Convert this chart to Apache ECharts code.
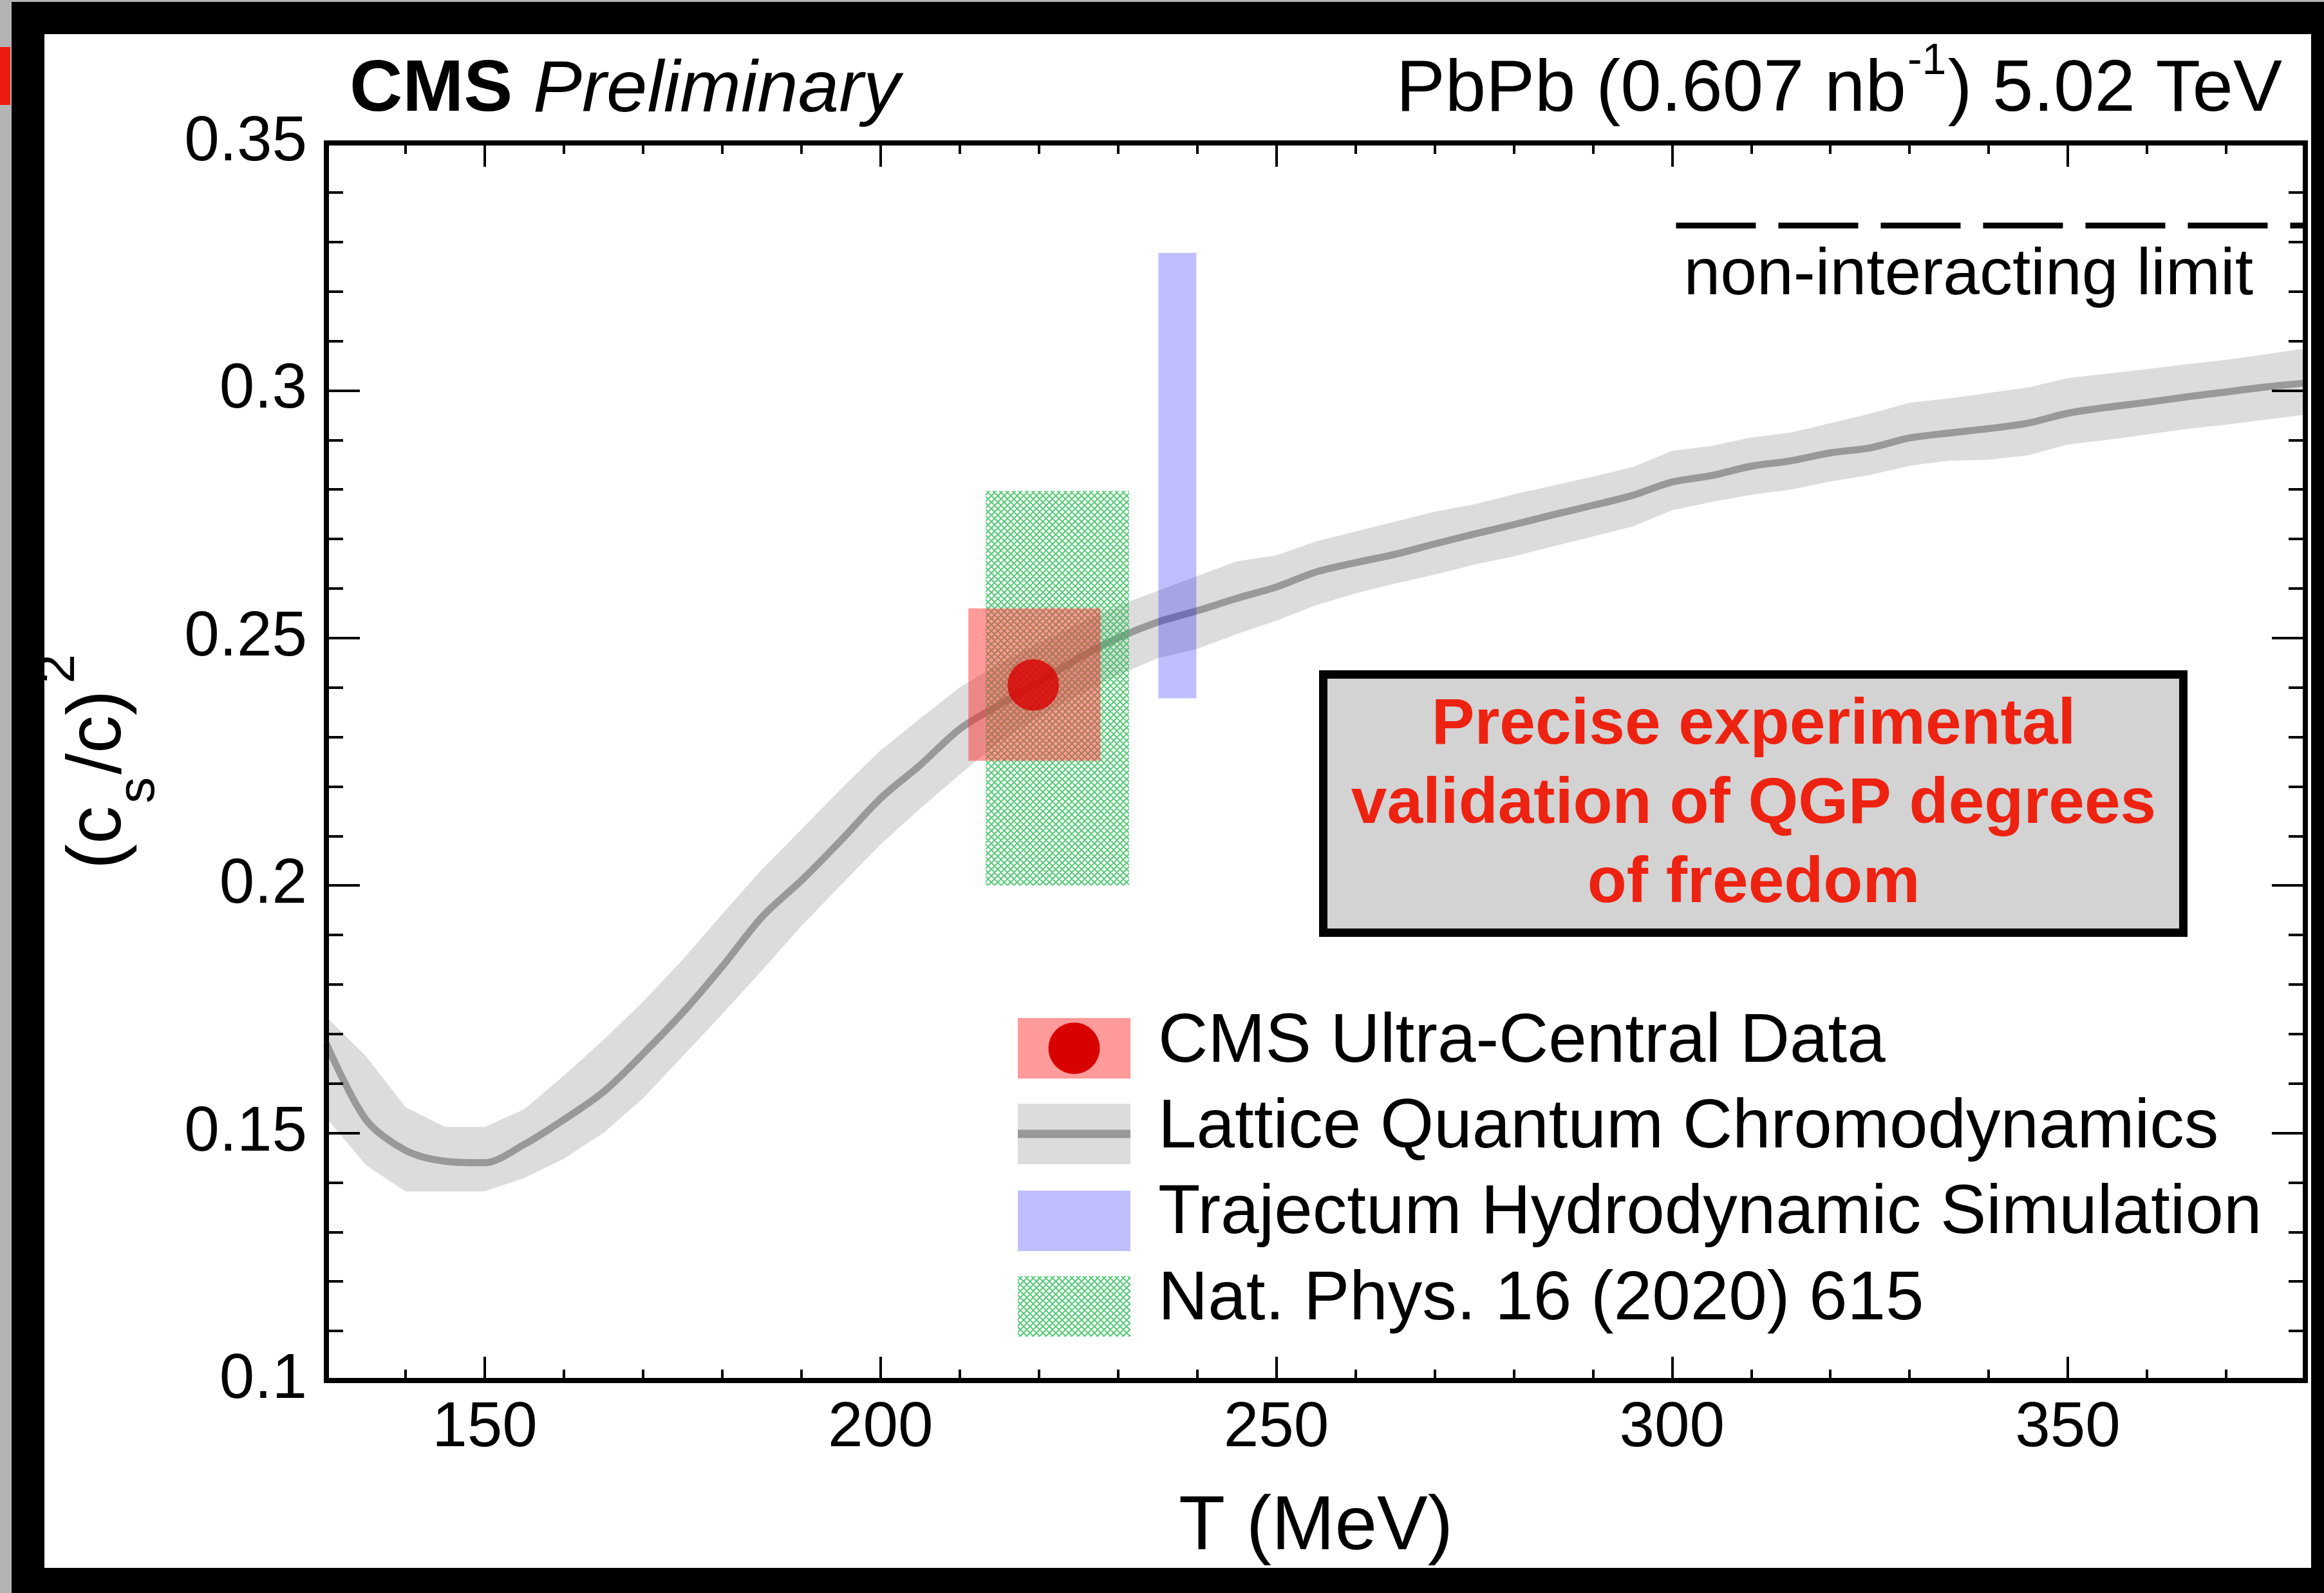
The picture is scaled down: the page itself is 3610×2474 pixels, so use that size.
<!DOCTYPE html>
<html>
<head>
<meta charset="utf-8">
<script src="https://cdn.jsdelivr.net/npm/echarts@6/dist/echarts.min.js"></script>
<style>
html,body{margin:0;padding:0;background:#000;}
#wrap{position:relative;width:3610px;height:2474px;overflow:hidden;background:#000;}
.abs{position:absolute;}
</style>
</head>
<body>
<div id="wrap">
  <div class="abs" style="left:0;top:0;width:18px;height:2474px;background:#b4b4b4"></div>
  <div class="abs" style="left:0;top:0;width:3610px;height:3px;background:#b4b4b4"></div>
  <div class="abs" style="left:0;top:73px;width:16px;height:90px;background:#ee1c0e"></div>
  <div class="abs" style="left:69px;top:53px;width:3521px;height:2382px;background:#fff"></div>
  <div id="chart" class="abs" style="left:0;top:0;width:3610px;height:2474px"></div>
</div>
<script>
// ---------------- data ----------------
const latticeT = [130,135,140,145,150,155,160,165,170,175,180,185,190,195,200,205,210,215,220,225,230,235,240,245,250,255,260,265,270,275,280,285,290,295,300,305,310,315,320,325,330,335,340,345,350,355,360,365,370,375,380];
const latticeCenter = [0.1680,0.1527,0.1465,0.1443,0.1440,0.1477,0.1527,0.1583,0.1660,0.1743,0.1836,0.1936,0.2010,0.2091,0.2176,0.2243,0.2316,0.2365,0.2411,0.2459,0.2500,0.2532,0.2555,0.2580,0.2603,0.2633,0.2652,0.2669,0.2690,0.2710,0.2729,0.2749,0.2768,0.2788,0.2815,0.2828,0.2847,0.2858,0.2874,0.2884,0.2904,0.2914,0.2923,0.2934,0.2954,0.2966,0.2976,0.2987,0.2997,0.3007,0.3015];
const latticeHigh = [0.1735,0.1655,0.1552,0.1512,0.1512,0.1548,0.1616,0.1688,0.1765,0.1850,0.1942,0.2032,0.2113,0.2195,0.2273,0.2337,0.2400,0.2448,0.2490,0.2528,0.2565,0.2595,0.2625,0.2655,0.2667,0.2695,0.2715,0.2735,0.2755,0.2770,0.2790,0.2808,0.2826,0.2845,0.2878,0.2888,0.2905,0.2915,0.2934,0.2953,0.2975,0.2984,0.2995,0.3006,0.3025,0.3034,0.3043,0.3053,0.3062,0.3073,0.3085];
const latticeLow = [0.1530,0.1435,0.1382,0.1382,0.1382,0.1409,0.1448,0.1500,0.1570,0.1655,0.1740,0.1828,0.1918,0.2001,0.2083,0.2155,0.2224,0.2290,0.2340,0.2385,0.2425,0.2459,0.2478,0.2508,0.2535,0.2566,0.2590,0.2610,0.2628,0.2648,0.2665,0.2685,0.2705,0.2725,0.2758,0.2775,0.2789,0.2800,0.2816,0.2829,0.2848,0.2858,0.2860,0.2869,0.2891,0.2900,0.2911,0.2922,0.2931,0.2941,0.2951];

const cmsPoint = [219.3, 0.2405];                 // T, cs^2
const cmsBox = [211.1, 227.8, 0.2252, 0.2560];     // Tlo, Thi, ylo, yhi
const trajectumBox = [235.1, 239.9, 0.2378, 0.3278];
const natPhysBox = [213.3, 231.4, 0.2000, 0.2797];
const idealT = [300.5, 380];
const idealValue = [1/3, 1/3];

const xMajorTicks = [150, 200, 250, 300, 350];
const seriesNames = ['CMS Ultra-Central Data', 'Lattice Quantum Chromodynamics', 'Trajectum Hydrodynamic Simulation', 'Nat. Phys. 16 (2020) 615'];
const annotationLines = ['Precise experimental', 'validation of QGP degrees', 'of freedom'];
const limitLabel = 'non-interacting limit';

// ---------------- styles ----------------
const FONT = 'Liberation Sans, Arial, Helvetica, sans-serif';
const RED_BOX = 'rgba(255,40,40,0.47)';
const BLUE_BOX = 'rgba(0,0,255,0.25)';
const BAND = '#dcdcdc';
const LINE = '#999999';
const DOT = '#d90000';

function makeHatch() {
  const c = document.createElement('canvas');
  c.width = 10; c.height = 10;
  const g = c.getContext('2d');
  g.strokeStyle = 'rgba(50,190,90,0.8)';
  g.lineWidth = 2.2;
  g.beginPath();
  g.moveTo(-2, -2); g.lineTo(12, 12);
  g.moveTo(-2, 12); g.lineTo(12, -2);
  g.moveTo(-2, 2); g.lineTo(2, -2);
  g.moveTo(8, 12); g.lineTo(12, 8);
  g.moveTo(8, -2); g.lineTo(12, 2);
  g.moveTo(-2, 8); g.lineTo(2, 12);
  g.stroke();
  return c;
}
const hatchCanvas = makeHatch();
const hatch = { image: hatchCanvas, repeat: 'repeat' };

function boxRenderer(fill) {
  return function (params, api) {
    const p0 = api.coord([api.value(0), api.value(3)]);
    const p1 = api.coord([api.value(1), api.value(2)]);
    return { type: 'rect', shape: { x: p0[0], y: p0[1], width: p1[0] - p0[0], height: p1[1] - p0[1] }, style: { fill: fill } };
  };
}

const chart = echarts.init(document.getElementById('chart'), null, { renderer: 'canvas' });

const tickStyle = { color: '#000', width: 4 };
function xAxisDef(pos, major) {
  const a = {
    type: 'value', position: pos, min: 130, max: 380, interval: 10, z: 10,
    axisLine: { show: !major, onZero: false, lineStyle: { color: '#000', width: 8, cap: 'square' } },
    axisTick: { show: true, inside: true, length: major ? 37 : 17, lineStyle: tickStyle },
    axisLabel: { show: false },
    splitLine: { show: false }
  };
  if (major) a.axisTick.customValues = xMajorTicks;
  if (pos === 'bottom' && !major) {
    a.axisLabel = { show: true, margin: 26, fontSize: 98, fontFamily: FONT, color: '#000',
      formatter: function (v) { return xMajorTicks.indexOf(v) >= 0 ? String(v) : ''; } };
    a.name = 'T (MeV)';
    a.nameLocation = 'middle';
    a.nameGap = 170;
    a.nameTextStyle = { fontSize: 118, fontFamily: FONT, color: '#000' };
  }
  return a;
}
function yAxisDef(pos) {
  const a = {
    type: 'value', position: pos, min: 0.1, max: 0.35, interval: 0.05, z: 10,
    axisLine: { show: true, onZero: false, lineStyle: { color: '#000', width: 8, cap: 'square' } },
    axisTick: { show: true, inside: true, length: 52, lineStyle: tickStyle },
    minorTick: { show: true, splitNumber: 5, length: 26, lineStyle: tickStyle },
    axisLabel: { show: false },
    splitLine: { show: false }, minorSplitLine: { show: false }
  };
  if (pos === 'left') {
    a.axisLabel = { show: true, margin: 30, fontSize: 98, fontFamily: FONT, color: '#000' };
    a.name = '{m|(c}{s|s}{m|/c)}{p|2}';
    a.nameLocation = 'middle';
    a.nameRotate = 90;
    a.nameGap = 250;
    a.nameTextStyle = {
      rich: {
        m: { fontSize: 118, lineHeight: 118, fontFamily: FONT, color: '#000' },
        s: { fontSize: 82, fontFamily: FONT, color: '#000', verticalAlign: 'bottom', padding: [124, 4, 0, 4] },
        p: { fontSize: 82, fontFamily: FONT, color: '#000', verticalAlign: 'top', padding: [0, 0, 124, 10] }
      }
    };
  }
  return a;
}

// legend geometry (annotation layout)
const legX = 1581, legW = 175, legH = 94;
const legTops = [1581, 1714, 1849, 1982];
const legTextY = [1619, 1752, 1885, 2019];
const legTextX = 1799;

const graphics = [
  { type: 'rect', z: 20, shape: { x: 2055.5, y: 1047.5, width: 1336, height: 401 }, style: { fill: '#d3d3d3', stroke: '#000', lineWidth: 13 } },
  { type: 'text', z: 21, x: 2724, y: 1250, style: { text: annotationLines.join('\n'), fontSize: 100, fontWeight: 'bold', fontFamily: FONT, fill: '#ee2211', align: 'center', verticalAlign: 'middle', lineHeight: 123 } },
  { type: 'text', z: 21, x: 3500, y: 429, style: { text: limitLabel, fontSize: 102, fontFamily: FONT, fill: '#000', align: 'right', verticalAlign: 'middle' } },
  // legend swatches
  { type: 'rect', z: 20, shape: { x: legX, y: legTops[0], width: legW, height: legH }, style: { fill: RED_BOX } },
  { type: 'circle', z: 21, shape: { cx: legX + legW / 2, cy: legTops[0] + legH / 2, r: 40 }, style: { fill: DOT } },
  { type: 'rect', z: 20, shape: { x: legX, y: legTops[1], width: legW, height: legH }, style: { fill: BAND } },
  { type: 'rect', z: 21, shape: { x: legX, y: legTops[1] + legH / 2 - 6.5, width: legW, height: 13 }, style: { fill: LINE } },
  { type: 'rect', z: 20, shape: { x: legX, y: legTops[2], width: legW, height: legH }, style: { fill: BLUE_BOX } },
  { type: 'rect', z: 20, shape: { x: legX, y: legTops[3], width: legW, height: legH }, style: { fill: hatch } }
];
seriesNames.forEach(function (n, i) {
  graphics.push({ type: 'text', z: 21, x: legTextX, y: legTextY[i], style: { text: n, fontSize: 107, fontFamily: FONT, fill: '#000', align: 'left', verticalAlign: 'middle' } });
});

const option = {
  animation: false,
  textStyle: { fontFamily: FONT },
  title: [
    { left: 543, top: 84, padding: 0, text: '{b|CMS }{i|Preliminary}',
      textStyle: { fontWeight: 'normal', rich: {
        b: { fontSize: 114, lineHeight: 114, fontWeight: 'bold', fontFamily: FONT, color: '#000' },
        i: { fontSize: 114, lineHeight: 114, fontWeight: 'normal', fontStyle: 'italic', fontFamily: FONT, color: '#000' } } } },
    { right: 65, top: 62, padding: 0, text: '{m|PbPb (0.607 nb}{s|-1}{m|) 5.02 TeV}',
      textStyle: { fontWeight: 'normal', rich: {
        m: { fontSize: 114, lineHeight: 114, fontWeight: 'normal', verticalAlign: 'bottom', fontFamily: FONT, color: '#000' },
        s: { fontSize: 68, fontWeight: 'normal', verticalAlign: 'top', padding: [0, 2, 68, 2], fontFamily: FONT, color: '#000' } } } }
  ],
  grid: { left: 507, right: 29, top: 222, bottom: 330, show: false, containLabel: false, outerBoundsMode: 'none' },
  xAxis: [xAxisDef('bottom', false), xAxisDef('bottom', true), xAxisDef('top', false), xAxisDef('top', true)],
  yAxis: [yAxisDef('left'), yAxisDef('right')],
  series: [
    { name: seriesNames[1], type: 'custom', xAxisIndex: 0, yAxisIndex: 0, z: 2,
      data: latticeT.map(function (t, i) { return [t, latticeLow[i], latticeHigh[i]]; }),
      encode: { x: 0, y: [1, 2] },
      renderItem: function (params, api) {
        if (params.dataIndex !== 0) return null;
        const pts = [];
        for (let i = 0; i < latticeT.length; i++) pts.push(api.coord([latticeT[i], latticeHigh[i]]));
        for (let i = latticeT.length - 1; i >= 0; i--) pts.push(api.coord([latticeT[i], latticeLow[i]]));
        return { type: 'polygon', shape: { points: pts }, style: { fill: BAND } };
      } },
    { name: seriesNames[1], type: 'line', xAxisIndex: 0, yAxisIndex: 0, z: 3,
      data: latticeT.map(function (t, i) { return [t, latticeCenter[i]]; }),
      smooth: 0.3, symbol: 'none', lineStyle: { color: LINE, width: 11, join: 'round' } },
    { name: seriesNames[3], type: 'custom', xAxisIndex: 0, yAxisIndex: 0, z: 4,
      data: [natPhysBox], encode: { x: [0, 1], y: [2, 3] }, renderItem: boxRenderer(hatch) },
    { name: seriesNames[2], type: 'custom', xAxisIndex: 0, yAxisIndex: 0, z: 5,
      data: [trajectumBox], encode: { x: [0, 1], y: [2, 3] }, renderItem: boxRenderer(BLUE_BOX) },
    { name: seriesNames[0], type: 'custom', xAxisIndex: 0, yAxisIndex: 0, z: 6,
      data: [cmsBox], encode: { x: [0, 1], y: [2, 3] }, renderItem: boxRenderer(RED_BOX) },
    { name: seriesNames[0], type: 'scatter', xAxisIndex: 0, yAxisIndex: 0, z: 7,
      data: [cmsPoint], symbol: 'circle', symbolSize: 80, itemStyle: { color: DOT } },
    { name: 'non-interacting limit', type: 'line', xAxisIndex: 0, yAxisIndex: 0, z: 7,
      data: idealT.map(function (t, i) { return [t, idealValue[i]]; }),
      symbol: 'none', lineStyle: { color: '#000', width: 9, type: [124, 35] } }
  ],
  graphic: graphics
};
chart.setOption(option);
</script>
</body>
</html>
